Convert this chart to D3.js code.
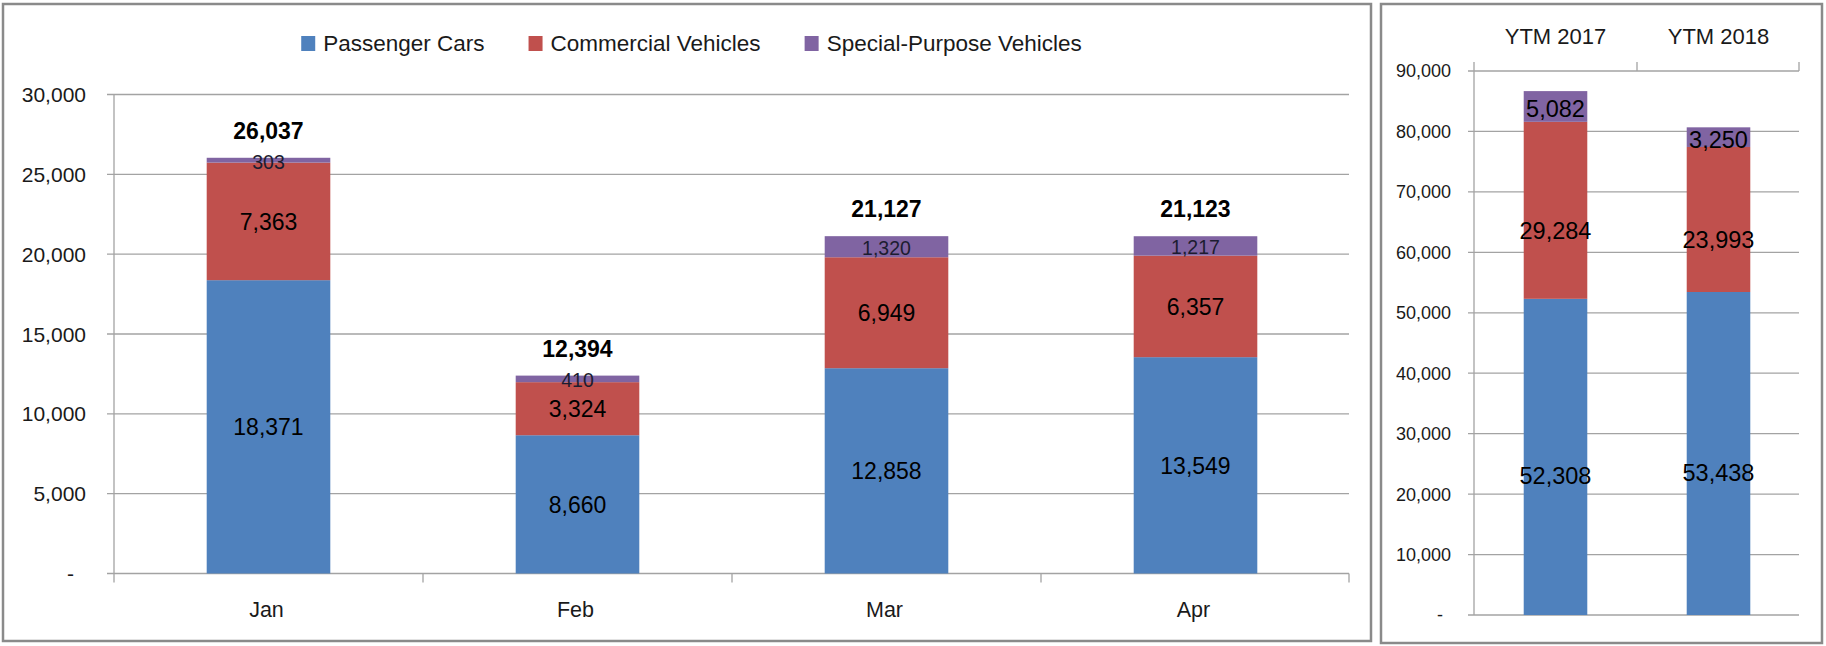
<!DOCTYPE html>
<html>
<head>
<meta charset="utf-8">
<script src="https://cdn.jsdelivr.net/npm/d3@7/dist/d3.min.js"></script>
<style>
  html, body { margin: 0; padding: 0; background: #fff; }
  svg { display: block; font-family: "Liberation Sans", Arial, sans-serif; }
</style>
</head>
<body>
<svg id="chart" width="1826" height="646"></svg>
<script>
// ---------- DATA ----------
const months = ["Jan", "Feb", "Mar", "Apr"];
const passengerCars = [18371, 8660, 12858, 13549];
const commercialVehicles = [7363, 3324, 6949, 6357];
const specialPurposeVehicles = [303, 410, 1320, 1217];
const monthTotals = [26037, 12394, 21127, 21123];

const ytmPeriods = ["YTM 2017", "YTM 2018"];
const ytmPassengerCars = [52308, 53438];
const ytmCommercialVehicles = [29284, 23993];
const ytmSpecialPurposeVehicles = [5082, 3250];

const seriesNames = ["Passenger Cars", "Commercial Vehicles", "Special-Purpose Vehicles"];
const seriesKeys = ["pc", "cv", "sp"];
const seriesColors = ["#4f81bd", "#c0504d", "#8064a2"];

const leftTicks = [0, 5000, 10000, 15000, 20000, 25000, 30000];
const rightTicks = [0, 10000, 20000, 30000, 40000, 50000, 60000, 70000, 80000, 90000];

// ---------- HELPERS ----------
const svg = d3.select("#chart");
const fmt = d3.format(",");
const tickFmt = v => v === 0 ? "-" : fmt(v);
const gridColor = "#a3a3a3";
const borderColor = "#8a8a8a";

// panel borders
svg.append("rect").attr("x", 3).attr("y", 4).attr("width", 1368).attr("height", 637)
  .attr("fill", "none").attr("stroke", borderColor).attr("stroke-width", 2.5);
svg.append("rect").attr("x", 1381).attr("y", 4).attr("width", 441).attr("height", 639)
  .attr("fill", "none").attr("stroke", borderColor).attr("stroke-width", 2.5);

// ---------- LEFT CHART ----------
const L = { x0: 114, x1: 1350, yTop: 94.5, yBase: 573.5 };
const monthRows = months.map((m, i) => ({ cat: m, pc: passengerCars[i], cv: commercialVehicles[i], sp: specialPurposeVehicles[i], total: monthTotals[i] }));
const yL = d3.scaleLinear().domain([0, 30000]).range([L.yBase, L.yTop]);
const xLband = d3.scaleBand().domain(months).range([L.x0, L.x1]).padding(0);
const xLbar = d3.scaleBand().domain(months).range([L.x0, L.x1]).paddingInner(0.6).paddingOuter(0.3);

const gL = svg.append("g");
gL.selectAll("line.grid").data(leftTicks).join("line")
  .attr("x1", L.x0 - 7).attr("x2", L.x1 - 1)
  .attr("y1", d => yL(d)).attr("y2", d => yL(d))
  .attr("stroke", gridColor).attr("stroke-width", 1.3);
gL.append("line").attr("x1", L.x0).attr("x2", L.x0).attr("y1", yL(30000)).attr("y2", L.yBase + 9)
  .attr("stroke", gridColor).attr("stroke-width", 1.3);
const lBounds = months.map(m => xLband(m)).concat([xLband(months[months.length - 1]) + xLband.bandwidth() - 1]).slice(1);
gL.selectAll("line.ctick").data(lBounds).join("line")
  .attr("x1", d => d).attr("x2", d => d).attr("y1", L.yBase).attr("y2", L.yBase + 9)
  .attr("stroke", gridColor).attr("stroke-width", 1.3);
gL.selectAll("text.ylab").data(leftTicks).join("text")
  .attr("x", d => d === 0 ? 74 : 86).attr("y", d => yL(d)).attr("dy", "0.36em")
  .attr("text-anchor", "end").attr("font-size", 21).attr("fill", "#1a1a1a")
  .text(tickFmt);
gL.selectAll("text.xlab").data(months).join("text")
  .attr("x", d => xLband(d) + xLband.bandwidth() / 2 - 2).attr("y", 617)
  .attr("text-anchor", "middle").attr("font-size", 21.5).attr("fill", "#1a1a1a")
  .text(d => d);

const stackL = d3.stack().keys(seriesKeys)(monthRows);
stackL.forEach((layer, si) => {
  gL.selectAll(null).data(layer).join("rect")
    .attr("x", d => xLbar(d.data.cat)).attr("width", xLbar.bandwidth())
    .attr("y", d => yL(d[1])).attr("height", d => yL(d[0]) - yL(d[1]))
    .attr("fill", seriesColors[si]);
});
stackL.forEach((layer, si) => {
  gL.selectAll(null).data(layer).join("text")
    .attr("x", d => xLbar(d.data.cat) + xLbar.bandwidth() / 2)
    .attr("y", d => (yL(d[0]) + yL(d[1])) / 2 + (si === 2 ? 1.5 : 0))
    .attr("dy", "0.36em").attr("text-anchor", "middle")
    .attr("font-size", si === 2 ? 19.5 : 23)
    .attr("fill", si === 2 ? "#1c1c30" : "#000")
    .text(d => fmt(d.data[seriesKeys[si]]));
});
gL.selectAll("text.total").data(monthRows).join("text")
  .attr("x", d => xLbar(d.cat) + xLbar.bandwidth() / 2)
  .attr("y", d => yL(d.total) - 19)
  .attr("text-anchor", "middle").attr("font-size", 23).attr("font-weight", "bold").attr("fill", "#000")
  .text(d => fmt(d.total));

// legend
const legend = svg.append("g");
const items = [];
seriesNames.forEach((name, i) => {
  const g = legend.append("g");
  g.append("rect").attr("x", 0).attr("y", 36).attr("width", 14).attr("height", 15).attr("fill", seriesColors[i]);
  const t = g.append("text").attr("x", 22).attr("y", 51).attr("font-size", 22.5).attr("fill", "#1a1a1a").text(name);
  const w = 22 + t.node().getComputedTextLength();
  items.push({ g, w });
});
const gap = 44;
const totalW = d3.sum(items, d => d.w) + gap * (items.length - 1);
let lx = 691.5 - totalW / 2;
items.forEach(it => { it.g.attr("transform", `translate(${lx},0)`); lx += it.w + gap; });

// ---------- RIGHT CHART ----------
const R = { x0: 1474, x1: 1800, yTop: 71, yBase: 615 };
const ytmRows = ytmPeriods.map((p, i) => ({ cat: p, pc: ytmPassengerCars[i], cv: ytmCommercialVehicles[i], sp: ytmSpecialPurposeVehicles[i] }));
const yR = d3.scaleLinear().domain([0, 90000]).range([R.yBase, R.yTop]);
const xRband = d3.scaleBand().domain(ytmPeriods).range([R.x0, R.x1]).padding(0);
const xRbar = d3.scaleBand().domain(ytmPeriods).range([R.x0, R.x1]).paddingInner(0.61).paddingOuter(0.305);

const gR = svg.append("g");
gR.selectAll("line.grid").data(rightTicks).join("line")
  .attr("x1", R.x0 - 6).attr("x2", R.x1 - 1)
  .attr("y1", d => yR(d)).attr("y2", d => yR(d))
  .attr("stroke", gridColor).attr("stroke-width", 1.3);
gR.append("line").attr("x1", R.x0).attr("x2", R.x0).attr("y1", R.yTop - 9).attr("y2", R.yBase)
  .attr("stroke", gridColor).attr("stroke-width", 1.3);
const rBounds = ytmPeriods.map(p => xRband(p)).concat([R.x1 - 1]).slice(1);
gR.selectAll("line.ctick").data(rBounds).join("line")
  .attr("x1", d => d).attr("x2", d => d).attr("y1", R.yTop - 9).attr("y2", R.yTop)
  .attr("stroke", gridColor).attr("stroke-width", 1.3);
gR.selectAll("text.ylab").data(rightTicks).join("text")
  .attr("x", d => d === 0 ? 1443 : 1451).attr("y", d => yR(d)).attr("dy", "0.36em")
  .attr("text-anchor", "end").attr("font-size", 18).attr("fill", "#1a1a1a")
  .text(tickFmt);
gR.selectAll("text.xlab").data(ytmPeriods).join("text")
  .attr("x", d => xRband(d) + xRband.bandwidth() / 2).attr("y", 44)
  .attr("text-anchor", "middle").attr("font-size", 22).attr("fill", "#1a1a1a")
  .text(d => d);

const stackR = d3.stack().keys(seriesKeys)(ytmRows);
stackR.forEach((layer, si) => {
  gR.selectAll(null).data(layer).join("rect")
    .attr("x", d => xRbar(d.data.cat)).attr("width", xRbar.bandwidth())
    .attr("y", d => yR(d[1])).attr("height", d => yR(d[0]) - yR(d[1]))
    .attr("fill", seriesColors[si]);
});
const rLabelShift = [19, 20, 2];
stackR.forEach((layer, si) => {
  gR.selectAll(null).data(layer).join("text")
    .attr("x", d => xRbar(d.data.cat) + xRbar.bandwidth() / 2)
    .attr("y", d => (yR(d[0]) + yR(d[1])) / 2 + rLabelShift[si])
    .attr("dy", "0.36em").attr("text-anchor", "middle")
    .attr("font-size", 23.5).attr("fill", "#000")
    .text(d => fmt(d.data[seriesKeys[si]]));
});
</script>
</body>
</html>
